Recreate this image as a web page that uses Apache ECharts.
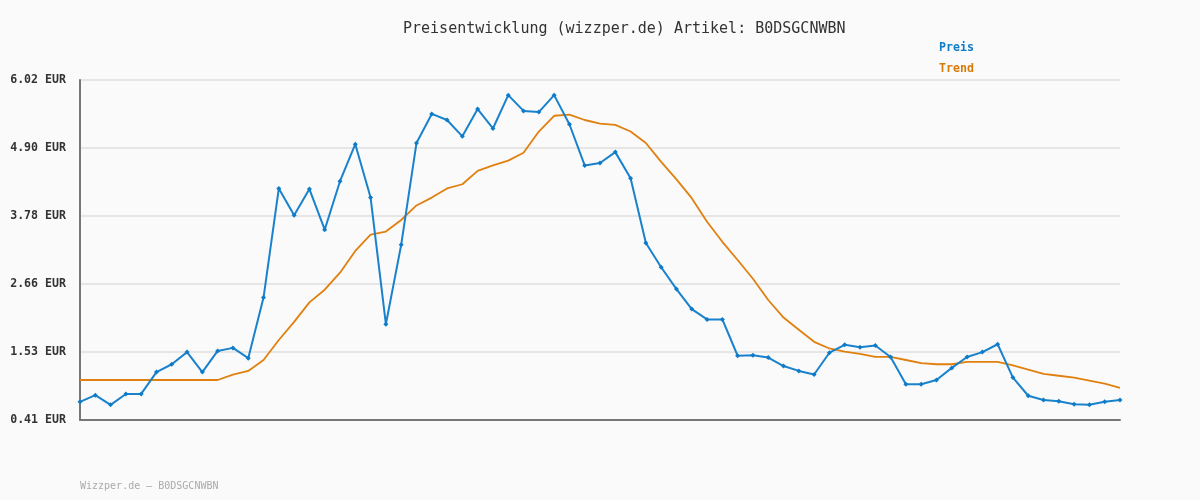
<!DOCTYPE html>
<html>
<head>
<meta charset="utf-8">
<script src="https://cdn.jsdelivr.net/npm/echarts@6/dist/echarts.min.js"></script>
<style>
  html, body { margin: 0; padding: 0; background: #fafafa; }
  #chart { width: 1200px; height: 500px; }
</style>
</head>
<body>
<div id="chart"></div>
<script>
const preis = [
  0.71, 0.82, 0.66, 0.84, 0.84, 1.20, 1.33, 1.53, 1.20, 1.55,
  1.60, 1.43, 2.43, 4.23, 3.79, 4.22, 3.55, 4.35, 4.96, 4.08,
  1.99, 3.30, 4.98, 5.46, 5.36, 5.09, 5.54, 5.22, 5.77, 5.51,
  5.49, 5.77, 5.29, 4.61, 4.65, 4.83, 4.40, 3.33, 2.93, 2.57,
  2.24, 2.07, 2.07, 1.47, 1.48, 1.44, 1.30, 1.22, 1.16, 1.52,
  1.65, 1.61, 1.64, 1.45, 1.00, 1.00, 1.07, 1.27, 1.45, 1.53,
  1.66, 1.11, 0.81, 0.74, 0.72, 0.67, 0.66, 0.71, 0.74
];

const trend = [
  1.07, 1.07, 1.07, 1.07, 1.07, 1.07, 1.07, 1.07, 1.07, 1.07,
  1.16, 1.22, 1.40, 1.73, 2.03, 2.35, 2.56, 2.84, 3.20, 3.47,
  3.52, 3.71, 3.95, 4.08, 4.23, 4.30, 4.52, 4.61, 4.69, 4.82,
  5.17, 5.43, 5.45, 5.36, 5.30, 5.28, 5.17, 4.98, 4.67, 4.38,
  4.07, 3.68, 3.35, 3.05, 2.74, 2.39, 2.10, 1.90, 1.70, 1.59,
  1.54, 1.50, 1.45, 1.45, 1.40, 1.35, 1.33, 1.33, 1.37, 1.37,
  1.37, 1.31, 1.24, 1.17, 1.14, 1.11, 1.06, 1.01, 0.94
];

const categories = preis.map((_, i) => String(i + 1));

const yTickLabels = ['0.41', '1.53', '2.66', '3.78', '4.90', '6.02'];

const mono = '"DejaVu Sans Mono", "Liberation Mono", monospace';

const chart = echarts.init(document.getElementById('chart'));
chart.setOption({
  backgroundColor: '#fafafa',
  animation: false,
  title: [
    {
      text: 'Preisentwicklung (wizzper.de) Artikel: B0DSGCNWBN',
      left: 403,
      top: 22,
      padding: 0,
      textStyle: { fontFamily: mono, fontSize: 15, fontWeight: 'normal', color: '#333' }
    },
    {
      text: 'Wizzper.de – B0DSGCNWBN',
      left: 80,
      top: 481,
      padding: 0,
      textStyle: { fontFamily: mono, fontSize: 10, fontWeight: 'normal', color: '#aaa' }
    }
  ],
  legend: {
    orient: 'vertical',
    left: 929,
    top: 37,
    itemWidth: 0,
    itemHeight: 0,
    itemGap: 9,
    selectedMode: false,
    data: [
      { name: 'Preis', icon: 'rect', textStyle: { color: '#0e7bc8' } },
      { name: 'Trend', icon: 'rect', textStyle: { color: '#d97a0a' } }
    ],
    textStyle: { fontFamily: mono, fontSize: 11.6, fontWeight: 'bold' }
  },
  grid: { left: 80, right: 80, top: 80, bottom: 80 },
  xAxis: {
    type: 'category',
    data: categories,
    boundaryGap: false,
    axisLine: { lineStyle: { color: '#777', width: 2 } },
    axisTick: { show: false },
    axisLabel: { show: false },
    splitLine: { show: false }
  },
  yAxis: {
    type: 'value',
    min: 0.41,
    max: 6.02,
    interval: 1.122,
    axisLine: { show: true, lineStyle: { color: '#777', width: 2 } },
    axisTick: { show: false },
    axisLabel: {
      margin: 14,
      fontFamily: mono,
      fontSize: 11.6,
      fontWeight: 'bold',
      color: '#333',
      formatter: (v, i) => yTickLabels[i] + ' EUR'
    },
    splitLine: { lineStyle: { color: '#e6e6e6', width: 2 } }
  },
  series: [
    {
      name: 'Preis',
      type: 'line',
      data: preis,
      color: '#0e7bc8',
      lineStyle: { width: 2, color: '#1a82cc' },
      symbol: 'diamond',
      symbolSize: 5,
      itemStyle: { color: '#0e7bc8' },
      z: 3
    },
    {
      name: 'Trend',
      type: 'line',
      data: trend,
      color: '#d97a0a',
      lineStyle: { width: 1.8, color: '#e0800f' },
      symbol: 'none',
      z: 2
    }
  ]
});
</script>
</body>
</html>
